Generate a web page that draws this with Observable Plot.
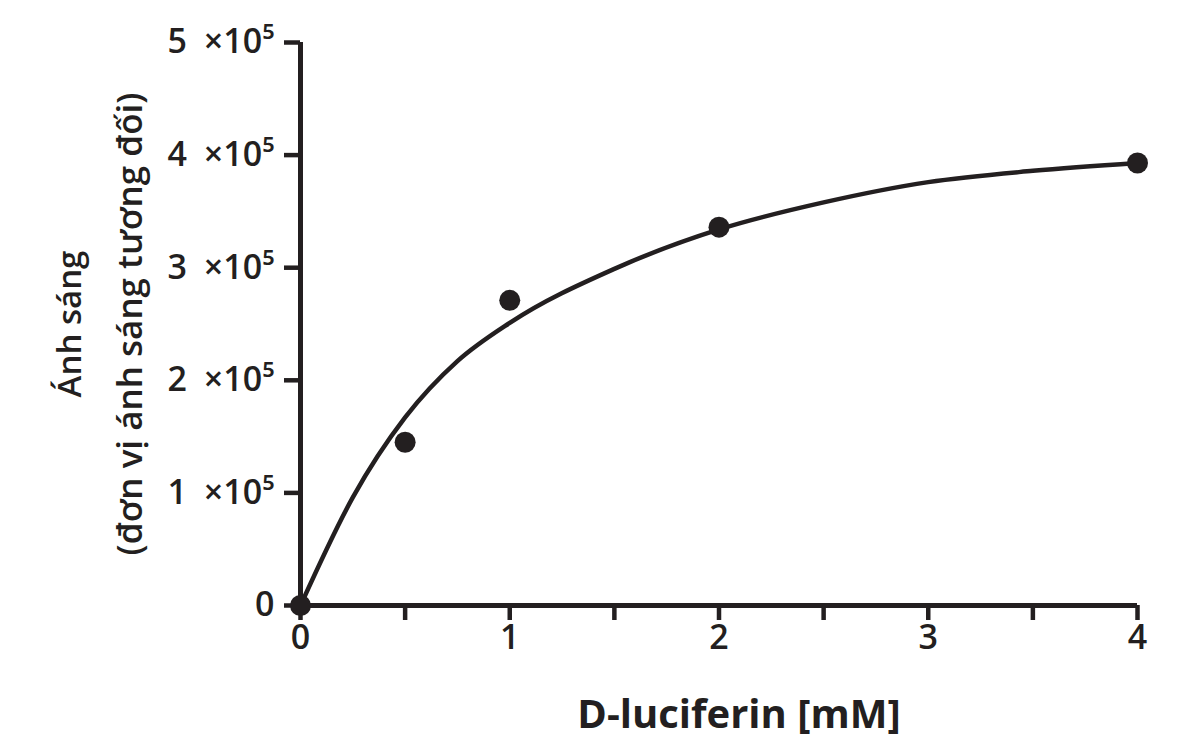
<!DOCTYPE html>
<html>
<head>
<meta charset="utf-8">
<script src="https://cdn.jsdelivr.net/npm/d3@7"></script>
<script src="https://cdn.jsdelivr.net/npm/@observablehq/plot@0.6"></script>
<style>
  body { margin: 0; background: #fff; }
  #chart svg { font-family: "Open Sans", "Noto Sans", sans-serif; }
</style>
</head>
<body>
<div id="chart"></div>
<script>
// measured points
var conc = [0, 0.5, 1, 2, 4];
var light = [0, 145000, 271000, 336000, 393000];

// fitted curve
var fitConc = [0, 0.25, 0.5, 0.75, 1, 1.5, 2, 2.5, 3, 3.5, 4];
var fitLight = [0, 96000, 167000, 217000, 251000, 299000, 334000, 358000, 376000, 386000, 393000];

var xTicks = [0, 0.5, 1, 1.5, 2, 2.5, 3, 3.5, 4];
var xLabels = ["0", "", "1", "", "2", "", "3", "", "4"];
var yTicks = [0, 100000, 200000, 300000, 400000, 500000];
var yLabels = ["0", "1\u2002×10⁵", "2\u2002×10⁵", "3\u2002×10⁵", "4\u2002×10⁵", "5\u2002×10⁵"];

var yTitle1 = "Ánh sáng";
var yTitle2 = "(đơn vị ánh sáng tương đối)";
var xTitle = "D-luciferin [mM]";

var points = conc.map((c, i) => ({ c: c, v: light[i] }));
var fit = fitConc.map((c, i) => ({ c: c, v: fitLight[i] }));

function draw_chart() {
  var options = {
    width: 1183,
    height: 746,
    marginLeft: 300,
    marginRight: 46,
    marginTop: 42,
    marginBottom: 141,
    style: { background: "white", color: "#231f20" },
    x: { domain: [0, 4] },
    y: { domain: [0, 500000] },
    marks: [
      Plot.axisX({
        ticks: xTicks,
        tickFormat: (d, i) => xLabels[i],
        tickSize: 15,
        tickPadding: 4,
        strokeWidth: 4.5,
        fontSize: 34,
        fontWeight: 600,
        label: null
      }),
      Plot.axisY({
        ticks: yTicks,
        tickFormat: (d, i) => yLabels[i],
        tickSize: 16,
        tickPadding: 10,
        strokeWidth: 4.5,
        fontSize: 34,
        fontWeight: 600,
        label: null
      }),
      Plot.ruleY([0], { x1: 0, x2: 4, stroke: "#231f20", strokeWidth: 5 }),
      Plot.ruleX([0], { y1: 0, y2: 500000, stroke: "#231f20", strokeWidth: 5 }),
      Plot.line(fit, {
        x: "c",
        y: "v",
        curve: "monotone-x",
        stroke: "#231f20",
        strokeWidth: 4.5
      }),
      Plot.dot(points, { x: "c", y: "v", r: 10.5, fill: "#231f20" }),
      // axis titles
      Plot.text([yTitle1], {
        frameAnchor: "left",
        textAnchor: "middle",
        dx: -230,
        rotate: -90,
        fontSize: 33,
        fontWeight: 600,
        fill: "#231f20"
      }),
      Plot.text([yTitle2], {
        frameAnchor: "left",
        textAnchor: "middle",
        dx: -170,
        rotate: -90,
        fontSize: 35,
        fontWeight: 600,
        fill: "#231f20"
      }),
      Plot.text([xTitle], {
        frameAnchor: "bottom",
        dx: 20,
        dy: 122,
        fontSize: 40,
        fontWeight: 700,
        fill: "#231f20"
      })
    ]
  };
  document.getElementById("chart").append(Plot.plot(options));
}
draw_chart();
</script>
</body>
</html>
